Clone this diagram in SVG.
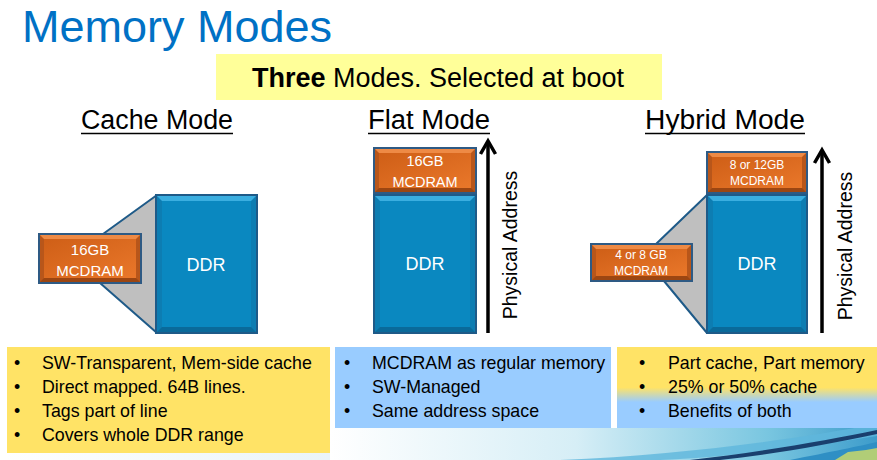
<svg xmlns="http://www.w3.org/2000/svg" width="877" height="460" viewBox="0 0 877 460">
<style>
.title{font-family:"Liberation Sans",Arial,sans-serif;font-size:45px;fill:#0071C5}
.banner{font-family:"Liberation Sans",Arial,sans-serif;font-size:27px;fill:#000}
.head{font-family:"Liberation Sans",Arial,sans-serif;font-size:27px;fill:#000}
.ul{stroke:#000;stroke-width:1.6}
.lbl{font-family:"Liberation Sans",Arial,sans-serif;fill:#fff;text-anchor:middle}
.ddrO{fill:#0D7DB2;stroke:#1E5A88;stroke-width:2}
.ddrI{fill:#0A88C0}
.ddrT{fill:#3AAEE0}
.ddrB{fill:#0A6A9A}
.mcO{fill:#B8561A;stroke:#2E5A84;stroke-width:2}
.mcI{fill:url(#og)}
.mcT{fill:#EE8A45}
.mcB{fill:#9C4612}
.trap{fill:#BFBFBF;stroke:#1E5A88;stroke-width:2;stroke-linejoin:round}
.arrow{stroke:#000;stroke-width:3.5;fill:none}
.pa{font-family:"Liberation Sans",Arial,sans-serif;font-size:19.5px;fill:#000;text-anchor:middle}
.bl{font-family:"Liberation Sans",Arial,sans-serif;font-size:17.8px;fill:#000}
</style>
<defs>
<linearGradient id="og" x1="0" y1="0" x2="1" y2="1">
<stop offset="0" stop-color="#CF5F17"/>
<stop offset="1" stop-color="#E9772A"/>
</linearGradient>
<linearGradient id="hyb" x1="0" y1="347" x2="0" y2="428" gradientUnits="userSpaceOnUse">
<stop offset="0" stop-color="#FFE366"/>
<stop offset="0.5" stop-color="#FFE366"/>
<stop offset="0.68" stop-color="#99CCFF"/>
<stop offset="1" stop-color="#99CCFF"/>
</linearGradient>
<linearGradient id="sw" x1="330" y1="0" x2="877" y2="0" gradientUnits="userSpaceOnUse">
<stop offset="0" stop-color="#FFFFFF"/>
<stop offset="0.45" stop-color="#D6EEF6"/>
<stop offset="0.8" stop-color="#79C6E0"/>
<stop offset="1" stop-color="#3D9CCB"/>
</linearGradient>
<linearGradient id="pale" x1="0" y1="0" x2="330" y2="0" gradientUnits="userSpaceOnUse">
<stop offset="0" stop-color="#FFFFFF"/>
<stop offset="1" stop-color="#EAF4F8"/>
</linearGradient>
</defs>
<rect width="877" height="460" fill="#fff"/>

<!-- background swoosh -->
<g id="background">
<rect x="7" y="453" width="323" height="7" fill="url(#pale)"/>
<path d="M330,460 L330,428 L877,428 L877,460 Z" fill="url(#sw)"/>
<path d="M560,460 C680,455 790,440 877,424 L877,436 C800,448 720,458 660,460 Z" fill="#5FB6DC" opacity="0.8"/>
<path d="M690,460 C760,452 830,440 877,430 L877,434 C830,444 770,455 720,460 Z" fill="#1A3F6E"/>
<path d="M790,460 C830,452 860,446 877,442 L877,460 Z" fill="#2F8FC4"/>
<path d="M835,460 L848,452 L866,450 L877,448 L877,460 Z" fill="#C8D86A" opacity="0.85"/>
</g>

<g id="title"><text class="title" x="22" y="42">Memory Modes</text></g>

<g id="banner">
<rect x="216" y="54" width="446" height="46" fill="#FFFF99"/>
<text class="banner" x="438" y="87" text-anchor="middle"><tspan font-weight="bold">Three</tspan> Modes. Selected at boot</text>
</g>

<g id="heading-cache"><text class="head" x="81" y="129" textLength="152" lengthAdjust="spacingAndGlyphs">Cache Mode</text><line class="ul" x1="81" y1="133.5" x2="233" y2="133.5"/></g>
<g id="heading-flat"><text class="head" x="368" y="129" textLength="122" lengthAdjust="spacingAndGlyphs">Flat Mode</text><line class="ul" x1="368" y1="133.5" x2="490" y2="133.5"/></g>
<g id="heading-hybrid"><text class="head" x="645" y="129" textLength="160" lengthAdjust="spacingAndGlyphs">Hybrid Mode</text><line class="ul" x1="645" y1="133.5" x2="805" y2="133.5"/></g>

<g id="connectors">
<polygon class="trap" points="103,234 157,195 157,333 100,283"/>
<polygon class="trap" points="656,244 707,195 707,333 664,281"/>
<line class="arrow" x1="488" y1="333" x2="488" y2="141"/>
<polyline class="arrow" points="480.5,154 488,141 495.5,154" stroke-linejoin="miter"/>
<line class="arrow" x1="822" y1="333" x2="822" y2="150"/>
<polyline class="arrow" points="814.5,163 822,150 829.5,163" stroke-linejoin="miter"/>
</g>

<!-- Cache mode -->
<g id="cache-ddr">
<rect class="ddrO" x="156" y="195" width="101" height="138"/>
<polygon class="ddrT" points="157,196 256,196 251,201 162,201"/>
<polygon class="ddrB" points="157,332 256,332 251,327 162,327"/>
<rect class="ddrI" x="162" y="201" width="89" height="126"/>
<text class="lbl" x="206" y="271" font-size="18">DDR</text>
</g>
<g id="cache-mcdram">
<rect class="mcO" x="39" y="234" width="102" height="49"/>
<polygon class="mcT" points="40,235 140,235 136,239 44,239"/>
<polygon class="mcB" points="40,282 140,282 136,278 44,278"/>
<rect class="mcI" x="44" y="239" width="92" height="39"/>
<text class="lbl" x="90" y="255" font-size="15">16GB</text>
<text class="lbl" x="90" y="276" font-size="15">MCDRAM</text>
</g>

<!-- Flat mode -->
<g id="flat-mcdram">
<rect class="mcO" x="374" y="148" width="102" height="45"/>
<polygon class="mcT" points="375,149 475,149 471,153 379,153"/>
<polygon class="mcB" points="375,192 475,192 471,188 379,188"/>
<rect class="mcI" x="379" y="153" width="92" height="35"/>
<text class="lbl" x="425" y="166" font-size="14.5">16GB</text>
<text class="lbl" x="425" y="187" font-size="14.5">MCDRAM</text>
</g>
<g id="flat-ddr">
<rect class="ddrO" x="374" y="195" width="102" height="138"/>
<polygon class="ddrT" points="375,196 475,196 470,201 380,201"/>
<polygon class="ddrB" points="375,332 475,332 470,327 380,327"/>
<rect class="ddrI" x="380" y="201" width="90" height="126"/>
<text class="lbl" x="425" y="270" font-size="18">DDR</text>
</g>
<g id="flat-axis"><text class="pa" transform="translate(517,245) rotate(-90)">Physical Address</text></g>

<!-- Hybrid mode -->
<g id="hybrid-mcdram-mem">
<rect class="mcO" x="707" y="152" width="100" height="41"/>
<polygon class="mcT" points="708,153 806,153 802,157 712,157"/>
<polygon class="mcB" points="708,192 806,192 802,188 712,188"/>
<rect class="mcI" x="712" y="157" width="90" height="31"/>
<text class="lbl" x="757" y="169" font-size="12">8 or 12GB</text>
<text class="lbl" x="757" y="185" font-size="12">MCDRAM</text>
</g>
<g id="hybrid-ddr">
<rect class="ddrO" x="707" y="195" width="100" height="138"/>
<polygon class="ddrT" points="708,196 806,196 801,201 713,201"/>
<polygon class="ddrB" points="708,332 806,332 801,327 713,327"/>
<rect class="ddrI" x="713" y="201" width="88" height="126"/>
<text class="lbl" x="757" y="270" font-size="18">DDR</text>
</g>
<g id="hybrid-mcdram-cache">
<rect class="mcO" x="591" y="244" width="101" height="37"/>
<polygon class="mcT" points="592,245 691,245 687,249 596,249"/>
<polygon class="mcB" points="592,280 691,280 687,276 596,276"/>
<rect class="mcI" x="596" y="249" width="91" height="27"/>
<text class="lbl" x="641" y="259" font-size="12">4 or 8 GB</text>
<text class="lbl" x="641" y="275" font-size="12">MCDRAM</text>
</g>
<g id="hybrid-axis"><text class="pa" transform="translate(852,246) rotate(-90)">Physical Address</text></g>

<!-- Bottom lists -->
<g id="list-cache">
<rect x="7" y="347" width="323" height="106" fill="#FFE366"/>
<text class="bl" x="14" y="369">•</text><text class="bl" x="42" y="369">SW-Transparent, Mem-side cache</text>
<text class="bl" x="14" y="393">•</text><text class="bl" x="42" y="393">Direct mapped. 64B lines.</text>
<text class="bl" x="14" y="417">•</text><text class="bl" x="42" y="417">Tags part of line</text>
<text class="bl" x="14" y="441">•</text><text class="bl" x="42" y="441">Covers whole DDR range</text>
</g>
<g id="list-flat">
<rect x="335" y="347" width="276" height="81" fill="#99CCFF"/>
<text class="bl" x="344" y="369">•</text><text class="bl" x="372" y="369">MCDRAM as regular memory</text>
<text class="bl" x="344" y="393">•</text><text class="bl" x="372" y="393">SW-Managed</text>
<text class="bl" x="344" y="417">•</text><text class="bl" x="372" y="417">Same address space</text>
</g>
<g id="list-hybrid">
<rect x="617" y="347" width="260" height="81" fill="url(#hyb)"/>
<text class="bl" x="639" y="369">•</text><text class="bl" x="668" y="369">Part cache, Part memory</text>
<text class="bl" x="639" y="393">•</text><text class="bl" x="668" y="393">25% or 50% cache</text>
<text class="bl" x="639" y="417">•</text><text class="bl" x="668" y="417">Benefits of both</text>
</g>
</svg>
